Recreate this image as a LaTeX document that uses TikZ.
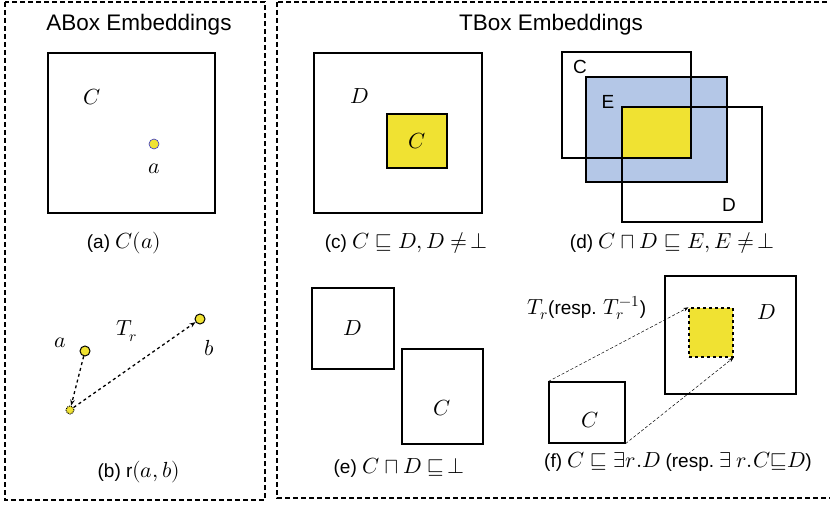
\documentclass[tikz,border=0pt]{standalone}
\usepackage{fontspec}
\usepackage{unicode-math}
\setmainfont{Liberation Sans}
\setmathfont{Latin Modern Math}[Scale=1.15]
\usepackage{tikz}
\usetikzlibrary{arrows.meta}

\definecolor{embyellow}{HTML}{F0E232}
\definecolor{embblue}{HTML}{B4C7E7}

\begin{document}
\begin{tikzpicture}[x=1pt, y=-1pt,
  every node/.style={font=\fontsize{19}{22}\selectfont},
  frame/.style={draw, line width=1.1pt, dash pattern=on 5pt off 3pt},
  box/.style={draw, line width=1.2pt, inner sep=0pt},
  dot/.style={circle, draw, line width=1pt, fill=embyellow, inner sep=0pt, minimum size=10pt},
  title/.style={font=\fontsize{22.5}{26}\selectfont}]
\useasboundingbox (0,0) rectangle (830,505);

\draw[frame] (5,2) rectangle (265,500);
\draw[frame] (277,2) rectangle (840,498);
\node[title] (atitle) at (139,25) {ABox Embeddings};
\node[title] (ttitle) at (551,25) {TBox Embeddings};

% (a)
\node[box, minimum width=167pt, minimum height=160pt] (aC) at (131.5,133) {};
\node (aClab) at (92,97) {$C$};
\node[dot, draw=blue!60!gray, line width=0.6pt] (adot) at (154,144) {};
\node (alab) at (154,169) {$a$};
\node (acap) at (124,243) {(a) $C(a)$};

% (b)
\node[dot] (ba) at (85,351) {};
\node[dot] (bb) at (200,319) {};
\node[dot, minimum size=8pt, densely dotted] (bt) at (70,410) {};
\node (balab) at (60,343) {$a$};
\node (bTr) at (127,331) {$T_r$};
\node (bblab) at (209,348) {$b$};
\draw[dashed, line width=1.3pt, -{Stealth[length=6pt]}] (ba) -- (bt);
\draw[dashed, line width=1.3pt, -{Stealth[length=6pt]}] (bt) -- (bb);
\node (bcap) at (139,472) {(b) r$(a,b)$};

% (c)
\node[box, minimum width=168pt, minimum height=160pt] (cD) at (398,133) {};
\node[box, fill=embyellow, minimum width=60pt, minimum height=54pt] (cC) at (417,141) {$C$};
\node (cDlab) at (360,96) {$D$};
\node (ccap) at (406,243) {(c) $C \sqsubseteq D, D \neq\!\bot$};

% (d)
\fill[embblue] (586,77) rectangle (727,182);
\fill[embyellow] (622,107) rectangle (691,158);
\node[box, minimum width=129pt, minimum height=106pt] (dC) at (626.5,105) {};
\node[box, minimum width=141pt, minimum height=105pt] (dE) at (656.5,129.5) {};
\node[box, minimum width=140pt, minimum height=115pt] (dD) at (692,164.5) {};
\node (dClab) at (580,67) {C};
\node (dElab) at (608,102) {E};
\node (dDlab) at (729,205) {D};
\node (dcap) at (672,243) {(d) $C \sqcap D \sqsubseteq E, E \neq\!\bot$};

% (e)
\node[box, minimum width=82pt, minimum height=81pt] (eD) at (353,328.5) {$D$};
\node[box, minimum width=81pt, minimum height=95pt] (eC) at (442.5,396.5) {};
\node (eClab) at (442,408) {$C$};
\node (ecap) at (399,468) {(e) $C \sqcap D \sqsubseteq\!\bot$};

% (f)
\node[box, minimum width=131pt, minimum height=118pt] (fD) at (730.5,335) {};
\node[box, fill=embyellow, dashed, minimum width=44pt, minimum height=49pt] (fY) at (711,332.5) {};
\node (fDlab) at (767,312) {$D$};
\node[box, minimum width=76pt, minimum height=61pt] (fC) at (587,412.5) {};
\node (fClab) at (590,420) {$C$};
\node (fTr) at (587,308) {$T_r$(resp. $T_r^{-1}$)};
\draw[densely dashed, line width=0.5pt, -{Stealth[length=5pt]}] (fC.north west) -- (fY.north west);
\draw[densely dashed, line width=0.5pt, -{Stealth[length=5pt]}] (fC.south east) -- (fY.south east);
\node (fcap) at (678,462) {(f) $C \sqsubseteq \exists r.D$ (resp.\ $\exists\ r.C{\sqsubseteq}D$)};

\end{tikzpicture}
\end{document}
